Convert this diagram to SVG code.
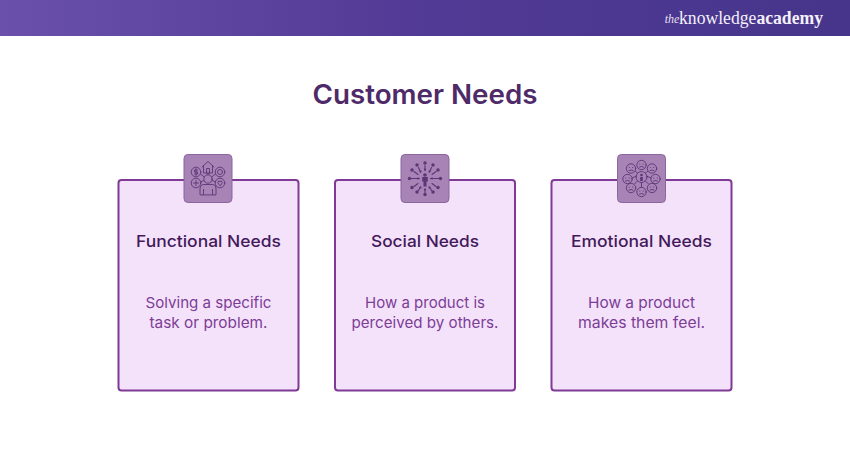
<svg xmlns="http://www.w3.org/2000/svg" width="850" height="450" viewBox="0 0 850 450">
<style>
.card{fill:#f4e2fa;stroke:#7f3a96;stroke-width:2}
.badge{fill:#a783b6;stroke:#8a659e;stroke-width:1}
.ic{fill:none;stroke:#5c3676;stroke-width:0.900;stroke-linecap:round;stroke-linejoin:round}
.dot{fill:#5c3676}
text{font-family:"Inter","Liberation Sans",sans-serif;text-anchor:middle}
.title{font-size:27px;font-weight:600;fill:#4e2a68}
.head{font-size:16.500px;font-weight:500;fill:#43195a}
.body{font-size:15px;fill:#7c3d97}
</style>
<defs>
<linearGradient id="hdr" x1="0" x2="1" y1="0" y2="0"><stop offset="0" stop-color="#6a50aa"/><stop offset="0.5" stop-color="#513a95"/><stop offset="1" stop-color="#46358b"/></linearGradient>
<g id="face"><circle r="4.700" class="ic"/><circle cx="-1.700" cy="-1" r="0.550" class="dot"/><circle cx="1.700" cy="-1" r="0.550" class="dot"/><path d="M-2 2Q0 0.800 2 2" class="ic"/></g>
</defs>
<rect width="850" height="36" fill="url(#hdr)"/>
<g id="logo"><text x="672" y="23" style="font-family:'Liberation Serif',serif;font-style:italic;font-size:12px" fill="#e6dff2">the</text><text x="751" y="24" style="font-family:'Liberation Serif',serif;font-size:18px" fill="#f4f0fa" textLength="144" lengthAdjust="spacingAndGlyphs">knowledge<tspan font-weight="700">academy</tspan></text></g>
<text class="title" x="425" y="104" textLength="225" lengthAdjust="spacingAndGlyphs">Customer Needs</text>

<g id="node-functional">
<rect class="card" x="118.500" y="180" width="180" height="210.500" rx="3"/>
<rect class="badge" x="184" y="154.500" width="48" height="48" rx="4"/>
<g transform="translate(208,178)">
<circle cx="0" cy="1" r="4.200" class="ic"/>
<path class="ic" d="M-8 16.500V11Q-8 6.500 -4 6.500H4Q8 6.500 8 11V16.500ZM-4.500 16.500V11.500M4.500 16.500V11.500"/>
<path class="ic" d="M-6 -11L0 -16.500L6 -11M-4.500 -12V-5H4.500V-12M-1.500 -5V-9.500H1.500V-5"/>
<circle cx="-12" cy="-6" r="4.800" class="ic"/><path class="ic" d="M-10.500 -8H-13.500V-6H-10.500V-4H-13.500M-12 -9.500V-2.500"/>
<circle cx="12" cy="-6" r="4.800" class="ic"/><circle cx="12" cy="-6" r="2.500" class="ic"/>
<circle cx="-12" cy="5" r="4.800" class="ic"/><path class="ic" d="M-14.500 5H-9.500M-12 2.500V7.500"/>
<circle cx="12" cy="5" r="4.800" class="ic"/><path class="ic" d="M12 7.500L9.800 4.800Q9.800 3 11 3Q12 3 12 4Q12 3 13 3Q14.200 3 14.200 4.800Z"/>
<path class="ic" d="M-7.500 -4L-3.700 -1M7.500 -4L3.700 -1M0 -5V-3.200M-7.500 4L-4.200 2.500M7.500 4L4.200 2.500"/>
</g>
<text class="head" x="208.500" y="247" textLength="145" lengthAdjust="spacingAndGlyphs">Functional Needs</text>
<text class="body" x="208.500" y="307.500" textLength="126" lengthAdjust="spacingAndGlyphs">Solving a specific</text>
<text class="body" x="208.500" y="327.500" textLength="118" lengthAdjust="spacingAndGlyphs">task or problem.</text>
</g>

<g id="node-social">
<rect class="card" x="335" y="180" width="180" height="210.500" rx="3"/>
<rect class="badge" x="401" y="154.500" width="48" height="48" rx="4"/>
<g transform="translate(425,178.500)">
<circle cx="0" cy="-3.500" r="1.800" class="dot"/><path class="dot" d="M-2.800 -1.500H2.800V3H1.500V8H-1.500V3H-2.800Z"/>
<g class="ic" style="stroke-width:1.100">
<path d="M0 -8V-13M4.500 -6.500L6.500 -11M-4.500 -6.500L-6.500 -11M7 -4L11 -7M-7 -4L-11 -7M5.500 0H14M-5.500 0H-14M7 5L11 8M-7 5L-11 8M4.500 8.500L6.500 12M-4.500 8.500L-6.500 12M0 11V14"/>
</g>
<g class="dot">
<circle cx="0" cy="-15.500" r="1.700"/><circle cx="8" cy="-13.500" r="1.700"/><circle cx="-8" cy="-13.500" r="1.700"/><circle cx="13" cy="-8.500" r="1.700"/><circle cx="-13" cy="-8.500" r="1.700"/><circle cx="15.500" cy="0" r="1.700"/><circle cx="-15.500" cy="0" r="1.700"/><circle cx="13" cy="9" r="1.700"/><circle cx="-13" cy="9" r="1.700"/><circle cx="8" cy="13.500" r="1.700"/><circle cx="-8" cy="13.500" r="1.700"/><circle cx="0" cy="16" r="1.700"/>
<circle cx="0" cy="-9" r="1.100"/><circle cx="4.500" cy="-7" r="1.100"/><circle cx="-4.500" cy="-7" r="1.100"/><circle cx="7" cy="0" r="1.100"/><circle cx="-7" cy="0" r="1.100"/><circle cx="4.500" cy="9" r="1.100"/><circle cx="-4.500" cy="9" r="1.100"/><circle cx="0" cy="11" r="1.100"/>
</g>
</g>
<text class="head" x="425" y="247" textLength="108" lengthAdjust="spacingAndGlyphs">Social Needs</text>
<text class="body" x="425" y="307.500" textLength="120" lengthAdjust="spacingAndGlyphs">How a product is</text>
<text class="body" x="425" y="327.500" textLength="147" lengthAdjust="spacingAndGlyphs">perceived by others.</text>
</g>

<g id="node-emotional">
<rect class="card" x="551.500" y="180" width="180" height="210.500" rx="3"/>
<rect class="badge" x="617.500" y="154.500" width="48" height="48" rx="4"/>
<g transform="translate(641.500,178)">
<circle cy="-1" r="5.500" class="ic"/><circle cy="-3" r="1.300" class="dot"/><path class="dot" d="M-1.300 -1H1.300V3H-1.300Z"/>
<path class="ic" d="M-4.800 -2L-9.500 0M4.800 -2L9.500 0M-4 3L-7 6M4 3L7 6M0 4.500V9M-4 -5L-6 -6.500M4 -5L6 -6.500"/>
<use href="#face" x="0" y="-13"/><use href="#face" x="10.500" y="-9.500"/><use href="#face" x="-10.500" y="-9.500"/><use href="#face" x="14" y="1"/><use href="#face" x="-14" y="1"/><use href="#face" x="10.500" y="10"/><use href="#face" x="-10.500" y="10"/><use href="#face" x="0" y="14"/>
</g>
<text class="head" x="641.500" y="247" textLength="141" lengthAdjust="spacingAndGlyphs">Emotional Needs</text>
<text class="body" x="641.500" y="307.500" textLength="107" lengthAdjust="spacingAndGlyphs">How a product</text>
<text class="body" x="641.500" y="327.500" textLength="127" lengthAdjust="spacingAndGlyphs">makes them feel.</text>
</g>
<g id="connectors"/>
</svg>
